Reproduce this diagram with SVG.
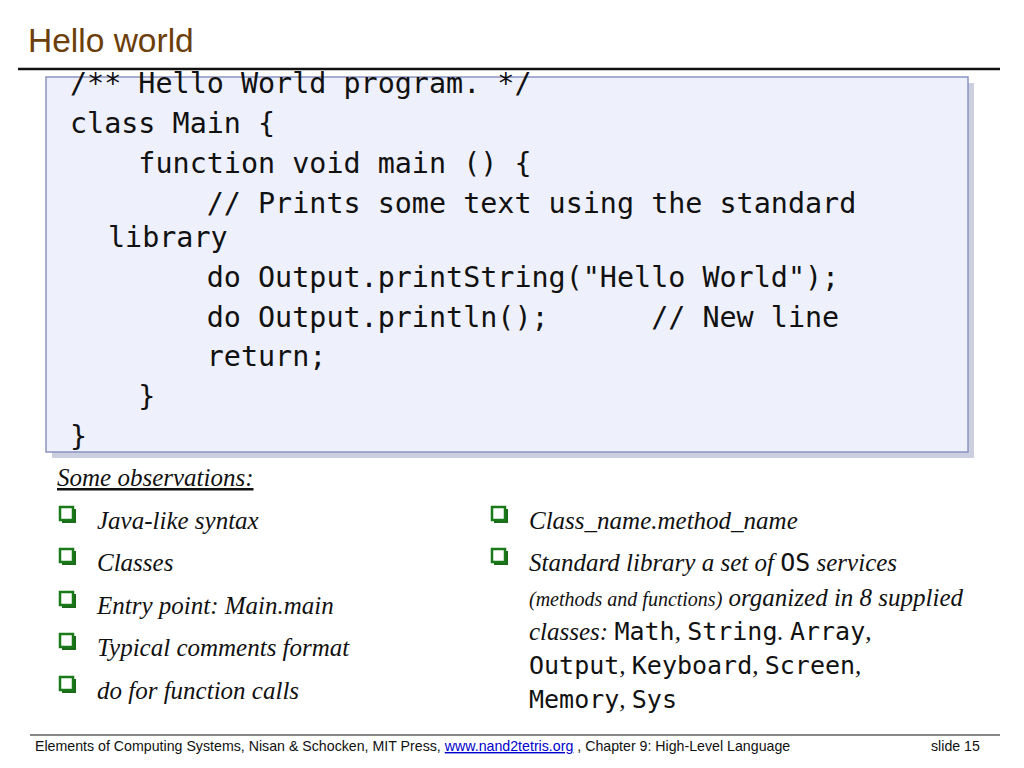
<svg xmlns="http://www.w3.org/2000/svg" width="1024" height="768" viewBox="0 0 1024 768">
<style>
.code{font-family:"DejaVu Sans Mono",monospace;font-size:28.4px;fill:#111}
.it{font-family:"Liberation Serif",serif;font-style:italic;font-size:25px;fill:#111}
.mono{font-family:"DejaVu Sans Mono",monospace;font-style:normal;font-size:25px}
.bx{fill:#fff;stroke:#1a7a1a;stroke-width:2.5}
.sh{fill:#1a6a1a}
.ft{font-family:"Liberation Sans",sans-serif;font-size:14.2px;fill:#111}
</style>
<defs>
<g id="cb"><rect class="sh" x="2" y="2" width="14" height="14"/><rect class="bx" x="0" y="0" width="13" height="13"/></g>
</defs>
<rect width="1024" height="768" fill="#fff"/>
<text x="28" y="52" font-family="Liberation Sans,sans-serif" font-size="33.5" fill="#6b3e0a">Hello world</text>
<line x1="18" y1="69" x2="1000" y2="69" stroke="#111" stroke-width="2.5"/>
<g id="codebox">
<rect x="52" y="83" width="922" height="375" fill="#9aa0c0" opacity="0.5"/>
<rect x="46" y="77" width="922" height="375" fill="#eef0fb" stroke="#8a94c0" stroke-width="1.5"/>
<text class="code" x="70" y="93" xml:space="preserve">/** Hello World program. */</text>
<text class="code" x="70" y="133" xml:space="preserve">class Main {</text>
<text class="code" x="70" y="173" xml:space="preserve">    function void main () {</text>
<text class="code" x="70" y="213" xml:space="preserve">        // Prints some text using the standard</text>
<text class="code" x="108" y="247" xml:space="preserve">library</text>
<text class="code" x="70" y="287" xml:space="preserve">        do Output.printString("Hello World");</text>
<text class="code" x="70" y="327" xml:space="preserve">        do Output.println();      // New line</text>
<text class="code" x="70" y="366" xml:space="preserve">        return;</text>
<text class="code" x="70" y="406" xml:space="preserve">    }</text>
<text class="code" x="70" y="446" xml:space="preserve">}</text>
</g>
<g id="observations">
<text class="it" x="57" y="486" text-decoration="underline">Some observations:</text>
<use href="#cb" x="60" y="507"/>
<text class="it" x="97" y="529">Java-like syntax</text>
<use href="#cb" x="60" y="549"/>
<text class="it" x="97" y="571">Classes</text>
<use href="#cb" x="60" y="592"/>
<text class="it" x="97" y="614">Entry point: Main.main</text>
<use href="#cb" x="60" y="634"/>
<text class="it" x="97" y="656">Typical comments format</text>
<use href="#cb" x="60" y="677"/>
<text class="it" x="97" y="699">do for function calls</text>
</g>
<g id="right">
<use href="#cb" x="492" y="507"/>
<text class="it" x="529" y="529">Class_name.method_name</text>
<use href="#cb" x="492" y="549"/>
<text class="it" x="529" y="571">Standard library a set of <tspan class="mono">OS</tspan> services</text>
<text class="it" x="529" y="606"><tspan font-size="20">(methods and functions)</tspan> organized in 8 supplied</text>
<text class="it" x="529" y="640">classes: <tspan class="mono">Math</tspan>, <tspan class="mono">String</tspan>. <tspan class="mono">Array</tspan>,</text>
<text class="it" x="529" y="674"><tspan class="mono">Output</tspan>, <tspan class="mono">Keyboard</tspan>, <tspan class="mono">Screen</tspan>,</text>
<text class="it" x="529" y="708"><tspan class="mono">Memory</tspan>, <tspan class="mono">Sys</tspan></text>
</g>
<line x1="30" y1="735" x2="1000" y2="735" stroke="#111" stroke-width="1"/>
<text class="ft" x="35" y="751">Elements of Computing Systems, Nisan &amp; Schocken, MIT Press,  <tspan fill="#0000cc" text-decoration="underline">www.nand2tetris.org</tspan> , Chapter 9: High-Level Language</text>
<text class="ft" x="931" y="751">slide 15</text>
</svg>
